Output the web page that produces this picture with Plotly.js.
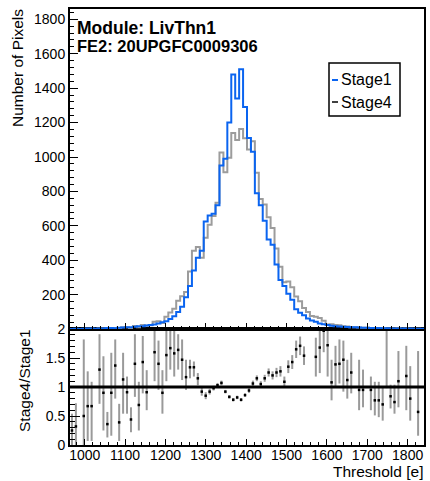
<!DOCTYPE html>
<html><head><meta charset="utf-8">
<script src="https://cdn.plot.ly/plotly-3.0.1.min.js"></script>
<style>html,body{margin:0;padding:0;background:#fff;} #chart{width:430px;height:481px;}</style>
</head><body><div id="chart"></div>
<script>
// Histogram contents (counts per bin), 90 bins across the x range
const stage1 = [1,2,1,2,3,3,2,3,4,6,
 6,5,8,9,11,11,13,16,17,21,
 24,27,33,39,46,58,75,100,130,185,
 250,340,415,455,625,660,670,720,950,990,
 1200,1480,1340,1510,1290,1110,1030,790,720,630,
 520,490,375,285,250,205,170,115,95,80,
 62,50,42,33,28,24,20,17,15,14,
 12,11,10,9,8,8,7,6,6,5,
 5,4,4,4,3,3,3,2,2,2];
const stage4 = [1,1,0,1,2,2,1,4,4,2,
 5,7,3,10,10,5,18,11,24,19,
 22,43,46,35,71,97,118,164,191,216,
 335,455,477,414,531,607,657,734,1026,911,
 996,1140,1099,1163,1109,1043,1092,908,756,724,
 650,588,469,362,272,277,243,190,162,123,
 100,76,71,65,48,26,28,24,22,16,
 15,11,10,9,8,8,5,5,4,6,
 4,3,4,5,2,3,2,2,2,1];
// Ratio Stage4/Stage1 with error bar ends
const ratio = [0.25,0.32,null,0.50,0.67,0.67,null,1.30,0.90,0.36,
 0.90,1.37,0.39,1.13,0.91,0.44,1.40,0.69,1.43,0.91,
 null,1.60,1.40,0.90,1.55,1.67,1.58,1.64,1.47,1.17,
 1.34,1.34,1.15,0.92,0.85,0.92,0.98,1.03,1.07,0.92,
 0.83,0.78,0.82,0.78,0.86,0.94,1.06,1.15,1.05,1.15,
 1.25,1.20,1.25,1.27,1.09,1.35,1.43,1.65,1.71,1.54,
 null,null,1.52,1.68,1.97,1.72,1.08,1.39,1.40,1.47,
 1.12,1.25,null,0.95,0.95,null,0.95,0.77,0.77,0.70,
 2.40,0.84,0.74,1.10,null,1.19,0.80,null,0.57,null];
const ratioLow = [0,0,null,0,0.07,0.07,null,0.71,0.25,0.13,
 0.16,0.80,0.07,0.54,0.54,0.22,0.83,0.25,0.89,0.60,
 null,1.10,0.95,0.54,1.10,1.30,1.18,1.30,1.12,0.95,
 1.15,1.18,1.03,0.85,0.79,0.87,0.94,0.99,1.03,0.89,
 0.80,0.75,0.79,0.75,0.83,0.90,1.01,1.10,1.00,1.09,
 1.18,1.13,1.17,1.18,1.00,1.24,1.31,1.50,1.55,1.38,
 null,null,1.18,1.24,1.60,1.18,0.77,1.01,1.06,0.92,
 0.80,0.89,null,0.60,0.65,null,0.60,0.51,0.48,0.42,
 0.98,0.63,0.54,0.65,null,0.60,0.42,null,0.16,null];
const ratioHigh = [0.54,0.72,null,1.82,1.27,1.09,null,1.91,1.53,0.57,
 1.59,1.82,0.71,1.59,1.18,0.65,1.91,1.09,1.88,1.29,
 null,2.05,1.80,1.29,2.05,2.05,2.05,1.91,1.82,1.47,
 1.47,1.44,1.24,0.99,0.91,0.97,1.02,1.07,1.11,0.95,
 0.86,0.81,0.85,0.81,0.89,0.98,1.11,1.20,1.10,1.21,
 1.32,1.27,1.33,1.36,1.18,1.46,1.55,1.80,1.87,1.70,
 null,null,1.85,2.05,2.30,2.05,1.47,1.71,1.82,1.80,
 1.47,1.59,null,1.47,1.30,null,1.18,1.09,1.09,1.01,
 3.80,1.04,1.04,1.62,null,1.71,1.36,null,1.62,null];
const histRange = [963.5, 1840.5];
const legendNames = ['Stage1', 'Stage4'];
const moduleLabel = 'Module: LivThn1';
const feLabel = 'FE2: 20UPGFC0009306';

const nBins = stage1.length;
const binW = (histRange[1] - histRange[0]) / nBins;
const edges = [], centers = [];
for (let i = 0; i <= nBins; i++) edges.push(histRange[0] + i * binW);
for (let i = 0; i < nBins; i++) centers.push(histRange[0] + (i + 0.5) * binW);
const stepY = v => v.concat([v[v.length - 1]]);
const errUp = ratio.map((r, i) => r == null ? null : ratioHigh[i] - r);
const errDn = ratio.map((r, i) => r == null ? null : r - ratioLow[i]);

const BLUE = '#0a64f0', GREY = '#9c9c9c';
const FONT = 'Liberation Sans, Arial, Helvetica, sans-serif';

const traces = [
  {x: edges, y: stepY(stage4), xaxis: 'x2', yaxis: 'y2', type: 'scatter', mode: 'lines',
   line: {shape: 'hv', color: GREY, width: 2}, name: legendNames[1], showlegend: false, hoverinfo: 'skip'},
  {x: edges, y: stepY(stage1), xaxis: 'x2', yaxis: 'y2', type: 'scatter', mode: 'lines',
   line: {shape: 'hv', color: BLUE, width: 2}, name: legendNames[0], showlegend: false, hoverinfo: 'skip'},
  {x: centers, y: ratio, xaxis: 'x', yaxis: 'y', type: 'scatter', mode: 'markers',
   marker: {symbol: 'square', size: 2.5, color: '#000', line: {width: 0}},
   error_y: {type: 'data', symmetric: false, array: errUp, arrayminus: errDn, color: '#9a9a9a', thickness: 2, width: 0},
   showlegend: false, hoverinfo: 'skip'}
];

// plot area in px: x 70..424, y 9..445
const px = x => (x - 70) / 354;
const py = y => (445 - y) / 436;
const split = py(329);

const axBase = {showline: true, mirror: true, linewidth: 2, linecolor: '#000', showgrid: false, zeroline: false,
  ticks: 'inside', tickcolor: '#000', tickfont: {family: FONT, size: 14, color: '#000'}};

const layout = {
  width: 430, height: 481,
  margin: {l: 70, r: 6, t: 9, b: 36},
  paper_bgcolor: '#fff', plot_bgcolor: '#fff',
  showlegend: false,
  xaxis: Object.assign({}, axBase, {domain: [0, 1], anchor: 'y', range: histRange, dtick: 100, tick0: 0,
    ticklen: 6, tickwidth: 1, ticklabelstandoff: -4,
    minor: {dtick: 20, ticklen: 3, ticks: 'inside', tickcolor: '#000'}}),
  yaxis: Object.assign({}, axBase, {domain: [0, split], anchor: 'x', range: [0, 2], dtick: 0.5, tick0: 0,
    ticklen: 10, tickwidth: 1, minor: {dtick: 0.1, ticklen: 5, ticks: 'inside', tickcolor: '#000'}}),
  xaxis2: Object.assign({}, axBase, {domain: [0, 1], anchor: 'y2', matches: 'x', range: histRange, dtick: 100, tick0: 0,
    showticklabels: false, ticklen: 6, tickwidth: 1, minor: {dtick: 20, ticklen: 3, ticks: 'inside', tickcolor: '#000'}}),
  yaxis2: Object.assign({}, axBase, {domain: [split, 1], anchor: 'x2', range: [0.5, 1860], dtick: 200, tick0: 0,
    ticklen: 8, tickwidth: 1, minor: {dtick: 40, ticklen: 4, ticks: 'inside', tickcolor: '#000'}}),
  shapes: [
    {type: 'line', xref: 'x', yref: 'y', x0: histRange[0], x1: histRange[1], y0: 1, y1: 1, line: {color: '#000', width: 3}},
    {type: 'rect', xref: 'paper', yref: 'paper', x0: px(329), x1: px(400), y0: py(116), y1: py(63),
     line: {color: '#000', width: 1.5}, fillcolor: '#fff'},
    {type: 'line', xref: 'paper', yref: 'paper', x0: px(332), x1: px(338), y0: py(80), y1: py(80), line: {color: BLUE, width: 2}},
    {type: 'line', xref: 'paper', yref: 'paper', x0: px(332), x1: px(338), y0: py(102), y1: py(102), line: {color: '#000', width: 1.5}}
  ],
  annotations: [
    {xref: 'paper', yref: 'paper', x: px(75), y: py(28), xanchor: 'left', yanchor: 'middle', showarrow: false,
     text: '<b>' + moduleLabel + '</b>', font: {family: FONT, size: 17.5, color: '#000'}},
    {xref: 'paper', yref: 'paper', x: px(75), y: py(46), xanchor: 'left', yanchor: 'middle', showarrow: false,
     text: '<b>' + feLabel + '</b>', font: {family: FONT, size: 16.5, color: '#000'}},
    {xref: 'paper', yref: 'paper', x: px(339), y: py(80), xanchor: 'left', yanchor: 'middle', showarrow: false,
     text: legendNames[0], font: {family: FONT, size: 16, color: '#000'}},
    {xref: 'paper', yref: 'paper', x: px(339), y: py(102), xanchor: 'left', yanchor: 'middle', showarrow: false,
     text: legendNames[1], font: {family: FONT, size: 16, color: '#000'}},
    {xref: 'paper', yref: 'paper', x: px(17), y: py(68), xanchor: 'center', yanchor: 'middle', showarrow: false, textangle: -90,
     text: 'Number of Pixels', font: {family: FONT, size: 15.5, color: '#000'}},
    {xref: 'paper', yref: 'paper', x: px(24), y: py(381), xanchor: 'center', yanchor: 'middle', showarrow: false, textangle: -90,
     text: 'Stage4/Stage1', font: {family: FONT, size: 15.5, color: '#000'}},
    {xref: 'paper', yref: 'paper', x: px(425), y: py(471), xanchor: 'right', yanchor: 'middle', showarrow: false,
     text: 'Threshold [e]', font: {family: FONT, size: 15.5, color: '#000'}}
  ]
};

Plotly.newPlot('chart', traces, layout, {staticPlot: true, displayModeBar: false});
</script>
</body></html>
